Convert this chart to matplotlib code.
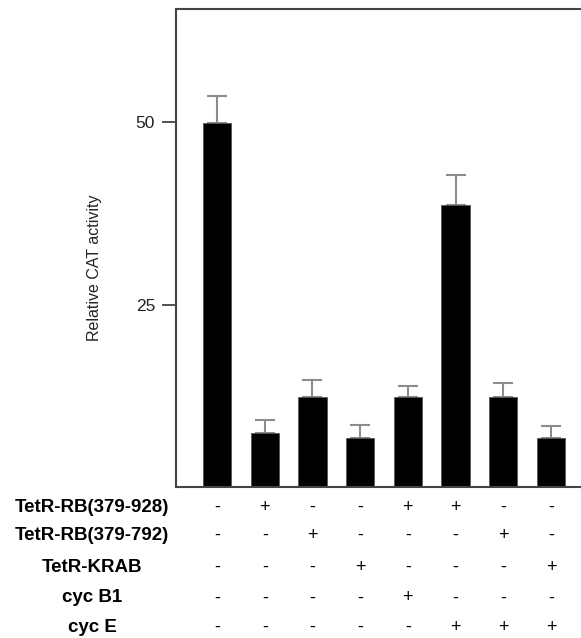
import numpy as np
import matplotlib
matplotlib.use('Agg')
import matplotlib.pyplot as plt
import matplotlib.transforms as mtransforms

plt.rcParams['font.family'] = ['Liberation Sans', 'DejaVu Sans']

# Datos
actividad = [49.9, 7.4, 12.4, 6.7, 12.4, 38.6, 12.4, 6.7]
error = [3.7, 1.8, 2.2, 1.8, 1.5, 4.1, 1.9, 1.7]
filas = ['TetR-RB(379-928)', 'TetR-RB(379-792)', 'TetR-KRAB', 'cyc B1', 'cyc E']
signos = [
    ['-', '+', '-', '-', '+', '+', '-', '-'],
    ['-', '-', '+', '-', '-', '-', '+', '-'],
    ['-', '-', '-', '+', '-', '-', '-', '+'],
    ['-', '-', '-', '-', '+', '-', '-', '-'],
    ['-', '-', '-', '-', '-', '+', '+', '+'],
]
yticks = [25, 50]

W, H = 581, 638
fig = plt.figure(figsize=(W / 100, H / 100), dpi=100)
ax = fig.add_axes([176 / W, 1 - 487 / H, 1 - 176 / W, (487 - 9) / H])

x = np.arange(len(actividad))
ax.bar(x, actividad, width=0.59, color='black', edgecolor='#555555', linewidth=0.6, zorder=2)
ax.errorbar(x, actividad, yerr=[np.zeros(len(error)), error], fmt='none',
            ecolor='#8c8c8c', elinewidth=1.5, capsize=7.5, capthick=1.5, zorder=1)

ax.set_xlim(-0.86, 7.63)
ax.set_ylim(0, 65.5)
ax.set_xticks([])
ax.set_yticks(yticks)
ax.tick_params(axis='y', length=10, width=1.2, color='#333333', pad=5, labelsize=12.5,
               labelcolor='#222222')
for s in ['left', 'top', 'bottom']:
    ax.spines[s].set_color('#444444')
    ax.spines[s].set_linewidth(1.5)
ax.spines['right'].set_visible(False)

fig.text(94 / W, 1 - 268 / H, 'Relative CAT activity', rotation=90,
         ha='center', va='center', fontsize=11.5, color='#222222')

# Tabla de +/-
filas_y = [507, 535, 567, 598, 627]
trans = mtransforms.blended_transform_factory(ax.transData, fig.transFigure)
for fila, yy, sg in zip(filas, filas_y, signos):
    fig.text(92 / W, 1 - yy / H, fila, ha='center', va='center', fontsize=13.5, fontweight='bold')
    for xx, s in zip(x, sg):
        ax.text(xx, 1 - yy / H, s, transform=trans, ha='center', va='center',
                fontsize=13, clip_on=False)

fig.savefig('out.png', dpi=100)
